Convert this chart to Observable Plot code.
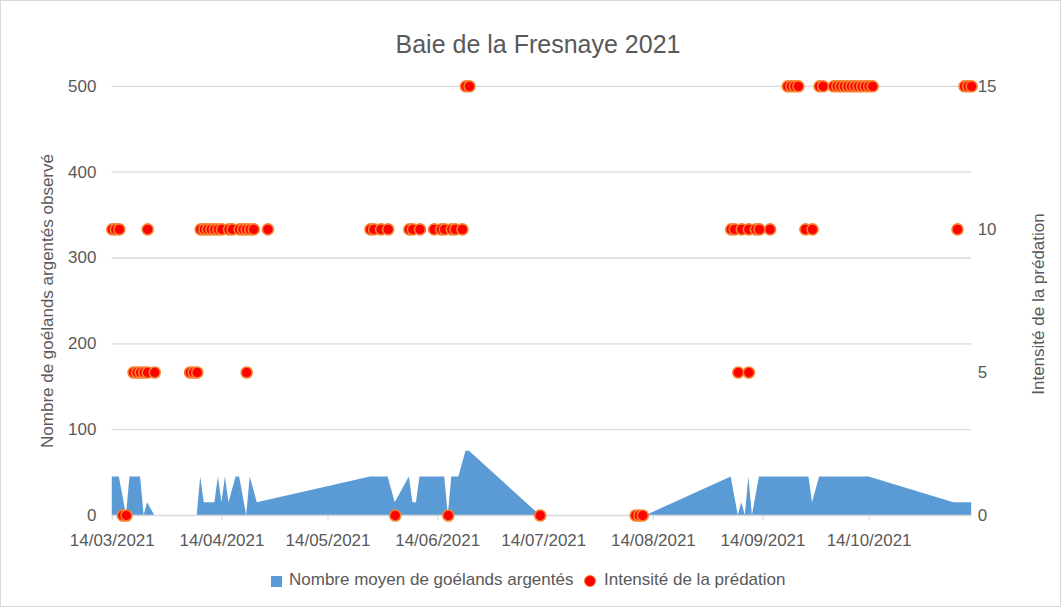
<!DOCTYPE html>
<html>
<head>
<meta charset="utf-8">
<script src="https://cdn.jsdelivr.net/npm/d3@7"></script>
<script src="https://cdn.jsdelivr.net/npm/@observablehq/plot@0.6"></script>
<style>
  html, body { margin: 0; padding: 0; background: #fff; }
  #chart { position: relative; width: 1061px; height: 607px; box-sizing: border-box;
           border: 1px solid #d9d9d9; font-family: "Liberation Sans", Arial, sans-serif; color: #595959; overflow: hidden; }
  #chart svg { position: absolute; left: -1px; top: -1px; }
  .title { position: absolute; top: 29px; left: 0; width: 1074px; text-align: center; font-size: 25px; }
  .ytitle { position: absolute; white-space: nowrap; font-size: 17px; transform: translate(-50%, -50%) rotate(-90deg); }
  .legend { position: absolute; top: 569px; left: 0; width: 1061px; font-size: 17px; }
  .legend span { position: absolute; white-space: nowrap; }
</style>
</head>
<body>
<div id="chart"></div>
<script>
// ---- data ----
const chartTitle = "Baie de la Fresnaye 2021";
const leftTitle = "Nombre de goélands argentés observé";
const rightTitle = "Intensité de la prédation";
const areaName = "Nombre moyen de goélands argentés";
const dotName = "Intensité de la prédation";

const xTickLabels = ["14/03/2021","14/04/2021","14/05/2021","14/06/2021","14/07/2021","14/08/2021","14/09/2021","14/10/2021"];
const xDomain = ["14/03/2021","12/11/2021"];
const yLeftTicks = [0,100,200,300,400,500];
const yRightTicks = [0,5,10,15];

// mean number of herring gulls (area)
const areaDates = [
  "14/03/2021","16/03/2021","18/03/2021","19/03/2021","22/03/2021","23/03/2021","24/03/2021","26/03/2021",
  "07/04/2021","08/04/2021","09/04/2021","12/04/2021","13/04/2021","14/04/2021","15/04/2021","16/04/2021",
  "18/04/2021","19/04/2021","21/04/2021","22/04/2021","24/04/2021",
  "26/05/2021","31/05/2021","02/06/2021","06/06/2021","07/06/2021","08/06/2021","09/06/2021","16/06/2021",
  "17/06/2021","18/06/2021","20/06/2021","22/06/2021","23/06/2021","13/07/2021","12/08/2021",
  "05/09/2021","07/09/2021","08/09/2021","09/09/2021","10/09/2021","11/09/2021","13/09/2021",
  "27/09/2021","28/09/2021","30/09/2021","14/10/2021","07/11/2021","12/11/2021"
];
const areaValues = [
  45,45,0,45,45,0,15,0,
  0,45,15,15,45,15,45,15,
  45,45,0,45,15,
  45,45,15,45,15,15,45,45,
  0,45,45,75,75,0,0,
  45,0,15,0,45,0,45,
  45,15,45,45,15,15
];

// predation intensity (dots)
const intensityDates = [
  "14/03/2021","15/03/2021","16/03/2021","17/03/2021","18/03/2021",
  "20/03/2021","21/03/2021","22/03/2021","23/03/2021","24/03/2021","24/03/2021","26/03/2021",
  "05/04/2021","06/04/2021","07/04/2021",
  "08/04/2021","09/04/2021","10/04/2021","11/04/2021","12/04/2021","13/04/2021","14/04/2021","16/04/2021",
  "17/04/2021","19/04/2021","20/04/2021","21/04/2021","21/04/2021","22/04/2021","23/04/2021","27/04/2021",
  "26/05/2021","27/05/2021","29/05/2021","31/05/2021","02/06/2021","06/06/2021","07/06/2021","09/06/2021",
  "13/06/2021","15/06/2021","16/06/2021","17/06/2021","18/06/2021","19/06/2021","21/06/2021",
  "22/06/2021","23/06/2021","13/07/2021","09/08/2021","10/08/2021","11/08/2021",
  "05/09/2021","06/09/2021","07/09/2021","08/09/2021","10/09/2021","10/09/2021","12/09/2021","13/09/2021","16/09/2021",
  "21/09/2021","22/09/2021","23/09/2021","24/09/2021","26/09/2021","28/09/2021","30/09/2021","01/10/2021",
  "04/10/2021","05/10/2021","06/10/2021","07/10/2021","08/10/2021","09/10/2021","10/10/2021","11/10/2021",
  "12/10/2021","13/10/2021","14/10/2021","15/10/2021","08/11/2021","10/11/2021","11/11/2021","12/11/2021"
];
const intensityValues = [
  10,10,10,0,0,
  5,5,5,5,10,5,5,
  5,5,5,
  10,10,10,10,10,10,10,10,
  10,10,10,10,5,10,10,10,
  10,10,10,10,0,10,10,10,
  10,10,10,0,10,10,10,
  15,15,0,0,0,0,
  10,10,5,10,10,5,10,10,10,
  15,15,15,15,10,10,15,15,
  15,15,15,15,15,15,15,15,
  15,15,15,15,10,15,15,15
];

// ---- build ----
const parse = d3.utcParse("%d/%m/%Y");
const fmt = d3.utcFormat("%d/%m/%Y");
const area = areaDates.map((d, i) => ({date: parse(d), value: areaValues[i]}));
const intensity = intensityDates.map((d, i) => ({date: parse(d), value: intensityValues[i]}))
  .sort((a, b) => a.date - b.date);
const k = yLeftTicks[yLeftTicks.length - 1] / yRightTicks[yRightTicks.length - 1];

const blue = "#5b9bd5", grid = "#d9d9d9", textColor = "#595959";

const plot = Plot.plot({
  width: 1061,
  height: 607,
  marginLeft: 112,
  marginRight: 88,
  marginTop: 86,
  marginBottom: 91,
  style: {background: "transparent", fontFamily: "'Liberation Sans', Arial, sans-serif", fontSize: "17px", color: textColor, overflow: "visible"},
  x: {type: "utc", domain: xDomain.map(parse)},
  y: {domain: [yLeftTicks[0], yLeftTicks[yLeftTicks.length - 1]]},
  marks: [
    Plot.gridY(yLeftTicks.filter(v => v > 0), {stroke: grid, strokeOpacity: 1, strokeWidth: 1.3}),
    Plot.areaY(area, {x: "date", y: "value", fill: blue, curve: "linear"}),
    Plot.ruleY([0], {stroke: grid, strokeWidth: 1.3}),
    Plot.axisX(xTickLabels.map(parse), {tickFormat: fmt, tickSize: 5, tickPadding: 13, stroke: grid, fill: textColor, label: null, fontSize: 17}),
    Plot.axisY(yLeftTicks, {anchor: "left", tickSize: 0, tickPadding: 16, fill: textColor, label: null, fontSize: 17}),
    Plot.axisY(yRightTicks.map(v => v * k), {anchor: "right", tickSize: 0, tickPadding: 6, tickFormat: v => Math.round(v / k), fill: textColor, label: null, fontSize: 17}),
    Plot.dot(intensity, {x: "date", y: d => d.value * k, r: 5.5, fill: "#ff0000", stroke: "#f6822e", strokeWidth: 1.6})
  ]
});

const chart = document.getElementById("chart");
chart.appendChild(plot);

const t = document.createElement("div");
t.className = "title"; t.textContent = chartTitle; chart.appendChild(t);

const lt = document.createElement("div");
lt.className = "ytitle"; lt.textContent = leftTitle;
lt.style.left = "47px"; lt.style.top = "300px"; chart.appendChild(lt);

const rt = document.createElement("div");
rt.className = "ytitle"; rt.textContent = rightTitle;
rt.style.left = "1038px"; rt.style.top = "303px"; chart.appendChild(rt);

const lg = document.createElement("div");
lg.className = "legend";
lg.innerHTML =
  `<span style="left:270px;top:6px;width:11px;height:11px;background:${blue}"></span>` +
  `<span style="left:288px;top:0px">${areaName}</span>` +
  `<span style="left:583px;top:5px;width:10px;height:10px;border-radius:50%;background:#ff0000;border:1.6px solid #f6822e"></span>` +
  `<span style="left:603px;top:0px">${dotName}</span>`;
chart.appendChild(lg);
</script>
</body>
</html>
